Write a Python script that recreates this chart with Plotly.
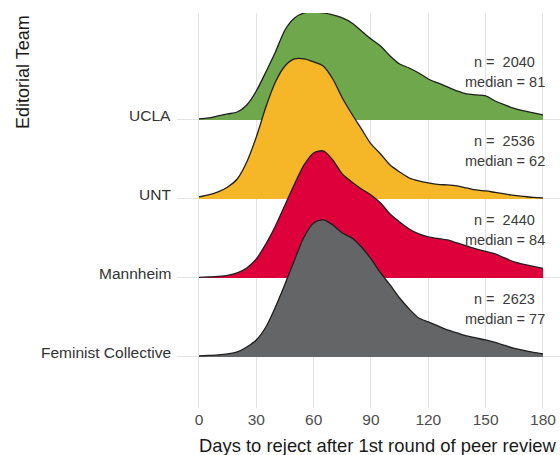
import plotly.graph_objects as go

# ---------------- data ----------------
days = list(range(0, 181, 5))
teams = ["Feminist Collective", "Mannheim", "UNT", "UCLA"]   # bottom -> top
n_obs = [2623, 2440, 2536, 2040]
medians = [77, 84, 62, 81]

# relative density (arbitrary units), at days 0,5,...,180
dens_ucla = [1, 2, 4, 6, 8, 15, 29, 48, 68, 90, 102, 107, 108, 107, 105, 102, 97, 89, 81,
             74, 64, 56, 52, 47, 41, 37, 33, 29, 26, 25, 24, 19, 15, 11.5, 9, 7, 5]
dens_unt = [2, 4, 7, 12, 20, 37, 62, 92, 117, 133, 140, 140, 137, 133, 120, 101, 85, 70, 55,
            45, 34, 27, 21, 18, 16, 14.5, 14, 13, 11, 9, 8, 6.5, 5, 3.5, 2.5, 1.5, 1]
dens_mannheim = [0.5, 1, 1.5, 2.5, 5, 10, 19, 34, 52, 73, 94, 113, 125, 127, 118, 104, 96, 89, 83,
                 75, 64, 56, 49, 44, 41, 39.5, 38, 35, 32, 29, 26.5, 24, 20, 16, 13.5, 11.5, 9.5]
dens_feminist = [1, 1.5, 2, 3, 5, 10, 17, 30, 50, 73, 97, 120, 134, 137, 132, 124, 119, 110, 98,
                 84, 72, 59, 48, 39, 35, 31, 27, 24, 21, 19, 17, 14.5, 11.5, 8.5, 6.5, 4.5, 3]
densities = [dens_feminist, dens_mannheim, dens_unt, dens_ucla]

x_ticks = [0, 30, 60, 90, 120, 150, 180]

# ---------------- style ----------------
colors = ["#646567", "#de003a", "#f5b728", "#6fa84c"]
scale = 1 / 79.0          # density units -> row units
FONT = "Liberation Sans, Arial, Helvetica, sans-serif"

fig = go.Figure()

# draw top row first so lower rows overlap it
for i in reversed(range(len(teams))):
    base = i
    top = [base + v * scale for v in densities[i]]
    fig.add_trace(go.Scatter(x=[days[0], days[-1]], y=[base, base], mode="lines",
                             line=dict(width=0), hoverinfo="skip", showlegend=False))
    fig.add_trace(go.Scatter(x=days, y=top, mode="lines", fill="tonexty",
                             fillcolor=colors[i],
                             line=dict(color="#1e1e1e", width=1.3, shape="spline", smoothing=0.8),
                             hoverinfo="skip", showlegend=False))

annotations = []
for i, team in enumerate(teams):
    annotations.append(dict(xref="paper", x=0, xanchor="right", xshift=-4,
                            yref="y", y=i, yanchor="middle", yshift=4,
                            text=team, showarrow=False,
                            font=dict(family=FONT, size=15.5, color="#333333")))
    annotations.append(dict(xref="x", x=160, xanchor="center",
                            yref="y", y=i + 0.734, yanchor="middle",
                            text="n = \u00a0" + str(n_obs[i]), showarrow=False,
                            font=dict(family=FONT, size=14.5, color="#3a3a3a")))
    annotations.append(dict(xref="x", x=160, xanchor="center",
                            yref="y", y=i + 0.484, yanchor="middle",
                            text="median = " + str(medians[i]), showarrow=False,
                            font=dict(family=FONT, size=14.5, color="#3a3a3a")))

# axis titles
annotations.append(dict(xref="x", x=-1, xanchor="left", yref="paper", y=0, yanchor="middle",
                        yshift=-37, text="Days to reject after 1st round of peer review",
                        showarrow=False, font=dict(family=FONT, size=18.4, color="#1a1a1a")))
annotations.append(dict(xref="paper", x=0, xshift=-154, xanchor="center",
                        yref="paper", y=0.8506, yanchor="middle", textangle=-90,
                        text="Editorial Team", showarrow=False,
                        font=dict(family=FONT, size=18, color="#1a1a1a")))

fig.update_layout(
    width=560, height=455,
    margin=dict(l=177, r=0, t=13, b=47),
    paper_bgcolor="white", plot_bgcolor="white",
    annotations=annotations,
    xaxis=dict(range=[-11.5, 188.9], tickvals=x_ticks, showgrid=True,
               gridcolor="#e3e3e3", gridwidth=1, zeroline=False, showline=False,
               ticks="", tickfont=dict(family=FONT, size=15.5, color="#4d4d4d")),
    yaxis=dict(range=[-0.646, 4.354], tickvals=[0, 1, 2, 3], showticklabels=False,
               showgrid=True, gridcolor="#e3e3e3", gridwidth=1, zeroline=False,
               showline=False, ticks=""),
)

fig.write_html("out.html")
